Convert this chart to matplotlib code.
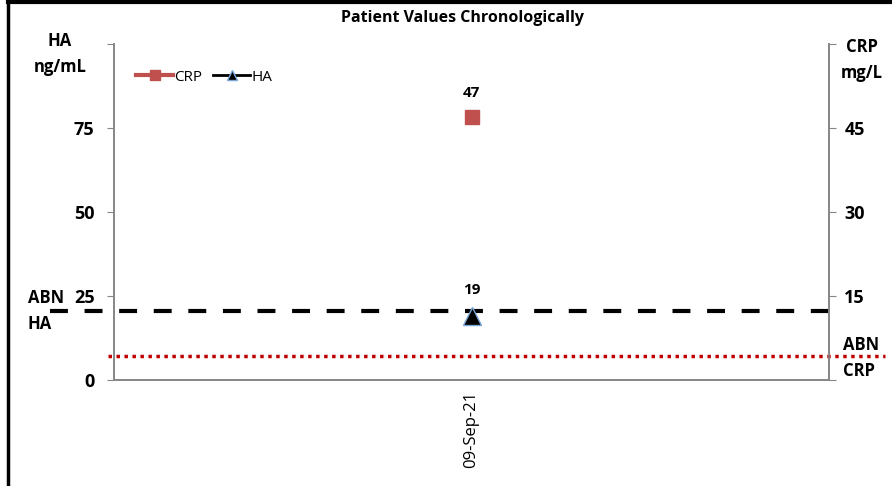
import matplotlib
matplotlib.use("Agg")
from matplotlib import pyplot as plt
from matplotlib.lines import Line2D

plt.rcParams['font.family'] = ['Open Sans', 'DejaVu Sans']

dates = ["09-Sep-21"]
crp_values = [47]
ha_values = [19]
abn_ha = 20.5
abn_crp = 4.2
ha_ticks = [0, 25, 50, 75, 100]
crp_ticks = [0, 15, 30, 45, 60]

fig = plt.figure(figsize=(8.92, 4.86), dpi=100)
ax1 = fig.add_axes([114/892, 1-380/486, 715/892, 336/486])
ax2 = ax1.twinx()

x = list(range(len(dates)))
gray = "#868686"
crp_color = "#C0504D"
ha_edge = "#7AA6D6"

# HA on left axis
ax1.axhline(abn_ha, xmin=-0.09, xmax=1.0, color="black", lw=3, ls=(0, (4.3, 4)), clip_on=False, zorder=2)
ax1.plot(x, ha_values, color="black", lw=2, marker="^", markersize=13,
         markerfacecolor="black", markeredgecolor=ha_edge, markeredgewidth=1, zorder=5)
for xi, v in zip(x, ha_values):
    ax1.annotate(str(v), (xi, v), xytext=(0, 14), textcoords="offset points",
                 ha="center", va="bottom", fontsize=11, fontweight="bold")

# CRP on right axis
ax2.axhline(abn_crp, xmin=-0.008, xmax=1.078, color="#C00000", lw=2.5, ls=(0, (1, 1.3)), clip_on=False)
ax2.plot(x, crp_values, color=crp_color, lw=3, marker="s", markersize=10,
         markerfacecolor=crp_color, markeredgecolor=crp_color, zorder=5)
for xi, v in zip(x, crp_values):
    ax2.annotate(str(v), (xi, v), xytext=(0, 12), textcoords="offset points",
                 ha="center", va="bottom", fontsize=11, fontweight="bold")

ax1.set_xlim(-0.5, len(dates) - 0.5)
ax1.set_ylim(0, 100)
ax2.set_ylim(0, 60)
ax1.set_xticks(x)
ax1.set_xticklabels(dates, rotation=90, fontsize=12)
ax1.tick_params(axis="x", length=0, pad=8)

ax1.set_yticks(ha_ticks)
ax1.set_yticklabels([str(t) for t in ha_ticks[:-1]] + [""], fontsize=13, fontweight="bold")
ax1.tick_params(axis="y", length=5, color=gray, pad=9)
ax2.set_yticks(crp_ticks)
ax2.set_yticklabels([""] + [str(t) for t in crp_ticks[1:-1]] + [""], fontsize=13, fontweight="bold")
ax2.tick_params(axis="y", length=5, color=gray, pad=6)

for ax in (ax1, ax2):
    ax.spines["top"].set_visible(False)
    for s in ("left", "right", "bottom"):
        ax.spines[s].set_color(gray)
        ax.spines[s].set_linewidth(1.2)

fig.text(0.519, 0.963, "Patient Values Chronologically", ha="center", va="center",
         fontsize=11.5, fontweight="bold")
fig.text(0.067, 0.889, "HA\nng/mL", ha="center", va="center", fontsize=12, fontweight="bold", linespacing=1.55)
fig.text(0.966, 0.876, "CRP\nmg/L", ha="center", va="center", fontsize=12, fontweight="bold", linespacing=1.55)
fig.text(0.031, 0.36, "ABN\nHA", ha="left", va="center", fontsize=12, fontweight="bold", linespacing=1.55)
fig.text(0.945, 0.263, "ABN\nCRP", ha="left", va="center", fontsize=12, fontweight="bold", linespacing=1.55)

# legend with smaller markers, like the original
crp_h = Line2D([], [], color=crp_color, lw=3, marker="s", markersize=7.5, markeredgecolor=crp_color)
ha_h = Line2D([], [], color="black", lw=2, marker="^", markersize=7.5,
              markerfacecolor="black", markeredgecolor=ha_edge, markeredgewidth=1)
ax2.legend([crp_h, ha_h], ["CRP", "HA"], loc="upper left", bbox_to_anchor=(0.012, 0.965),
           ncol=2, frameon=False, fontsize=11, handlelength=2.4, columnspacing=0.7,
           handletextpad=0.1)

# frame lines of the report
fig.add_artist(plt.Line2D([8/892, 8/892], [0, 1], color="black", lw=2.5))
fig.add_artist(plt.Line2D([8/892, 1], [1-2/486, 1-2/486], color="black", lw=3))

fig.savefig("out.png", dpi=100)
